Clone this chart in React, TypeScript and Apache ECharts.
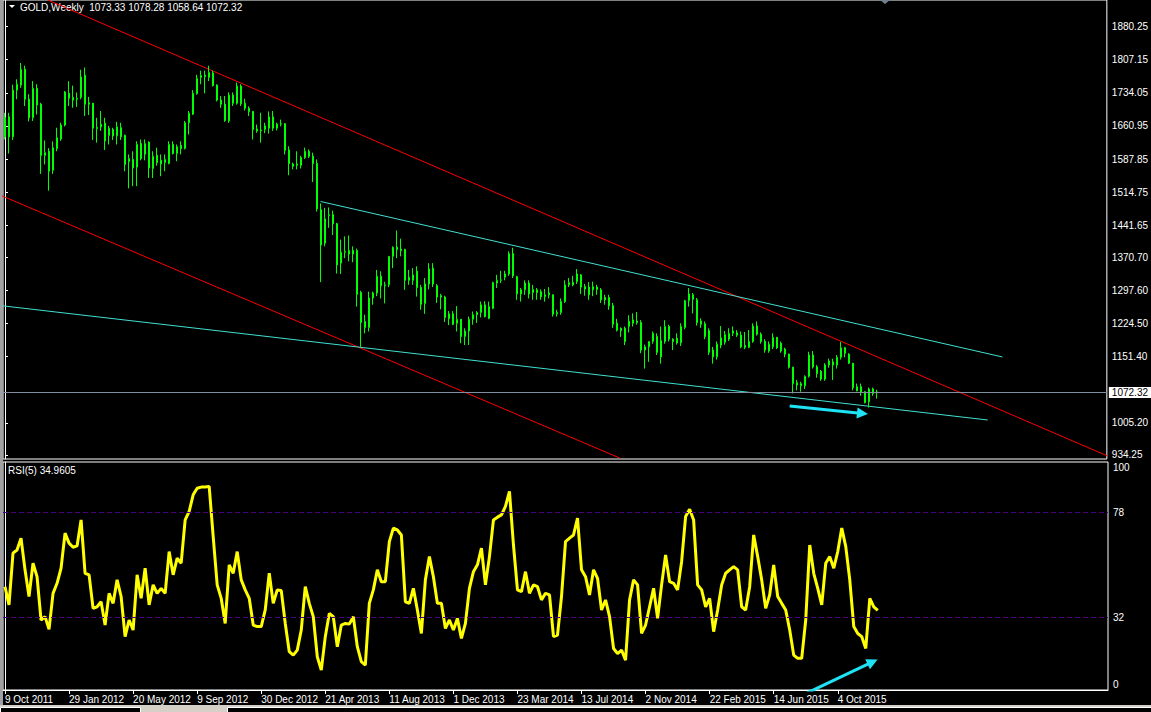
import React, { useEffect, useRef } from 'react';
import * as echarts from 'echarts';

const FONT = "'Liberation Sans', Arial, sans-serif";
const FS = 10;

const tickLabels = ['9 Oct 2011', '29 Jan 2012', '20 May 2012', '9 Sep 2012', '30 Dec 2012', '21 Apr 2013', '11 Aug 2013', '1 Dec 2013', '23 Mar 2014', '13 Jul 2014', '2 Nov 2014', '22 Feb 2015', '14 Jun 2015', '4 Oct 2015'];
const TICK_STEP = 16;
const SLOTS = 276;

const openP = [1637,1681,1637,1740,1751,1786,1720,1679,1744,1709,1596,1605,1563,1611,1632,1663,1733,1724,1720,1724,1773,1712,1711,1655,1659,1667,1640,1653,1639,1657,1640,1582,1587,1570,1622,1598,1625,1567,1596,1585,1580,1578,1620,1600,1618,1611,1668,1687,1732,1768,1773,1768,1778,1751,1718,1709,1672,1729,1711,1749,1711,1700,1693,1654,1650,1653,1656,1681,1656,1665,1666,1608,1577,1574,1574,1591,1605,1594,1578,1476,1402,1463,1465,1445,1358,1382,1378,1386,1386,1293,1229,1216,1281,1292,1329,1308,1310,1373,1393,1389,1388,1320,1320,1340,1304,1269,1312,1347,1308,1286,1283,1235,1246,1225,1234,1196,1208,1234,1244,1249,1266,1236,1258,1314,1320,1327,1334,1379,1328,1290,1299,1314,1293,1299,1295,1284,1288,1288,1246,1249,1273,1310,1315,1317,1332,1306,1305,1299,1305,1299,1282,1282,1264,1225,1214,1214,1218,1225,1230,1227,1166,1173,1185,1196,1151,1185,1218,1190,1192,1182,1216,1275,1288,1277,1230,1224,1209,1166,1151,1177,1183,1190,1203,1204,1199,1176,1172,1185,1219,1201,1185,1164,1173,1194,1181,1168,1157,1128,1094,1087,1087,1108,1155,1129,1119,1102,1133,1140,1133,1150,1171,1157,1137,1085,1085,1074,1052,1080,1073.33];
const highP = [1690,1690,1752,1764,1800,1794,1731,1760,1753,1712,1629,1612,1627,1657,1668,1738,1760,1750,1735,1785,1790,1725,1712,1679,1694,1679,1661,1657,1670,1668,1642,1598,1605,1627,1631,1631,1627,1605,1613,1598,1598,1627,1627,1620,1627,1672,1694,1740,1774,1783,1783,1794,1783,1753,1727,1727,1735,1735,1757,1753,1721,1704,1694,1664,1690,1668,1693,1694,1668,1675,1667,1616,1580,1605,1595,1613,1609,1602,1587,1490,1480,1481,1474,1447,1410,1417,1419,1395,1390,1297,1244,1295,1295,1343,1340,1317,1373,1395,1430,1412,1390,1343,1347,1351,1310,1325,1358,1358,1312,1290,1286,1252,1252,1263,1234,1214,1240,1251,1252,1273,1274,1273,1317,1332,1341,1341,1384,1392,1330,1303,1320,1320,1310,1303,1300,1301,1305,1289,1255,1280,1320,1325,1330,1345,1334,1312,1316,1317,1310,1303,1288,1288,1270,1235,1216,1218,1243,1247,1250,1232,1178,1185,1207,1203,1218,1232,1222,1192,1203,1225,1277,1303,1292,1281,1236,1229,1214,1173,1185,1219,1208,1214,1218,1210,1207,1206,1210,1225,1229,1205,1190,1185,1203,1195,1185,1171,1158,1129,1100,1096,1110,1162,1164,1133,1122,1137,1147,1147,1155,1184,1173,1159,1137,1092,1092,1075,1083,1083,1078.28];
const lowP = [1631,1600,1630,1720,1745,1705,1671,1672,1686,1555,1576,1518,1555,1605,1628,1660,1705,1701,1703,1720,1683,1685,1630,1624,1650,1608,1620,1630,1620,1630,1561,1523,1528,1528,1585,1585,1546,1546,1573,1550,1561,1576,1598,1583,1598,1609,1642,1685,1730,1753,1733,1760,1748,1715,1701,1670,1668,1705,1708,1705,1695,1683,1631,1646,1624,1645,1644,1650,1651,1660,1598,1552,1565,1565,1567,1588,1590,1537,1472,1316,1395,1436,1420,1335,1334,1369,1362,1360,1262,1173,1203,1207,1266,1285,1280,1269,1305,1347,1369,1373,1299,1310,1310,1284,1255,1246,1300,1305,1270,1256,1228,1221,1221,1207,1181,1177,1177,1222,1226,1238,1238,1234,1256,1303,1314,1320,1330,1325,1277,1273,1288,1280,1277,1277,1277,1273,1280,1240,1240,1244,1270,1305,1307,1312,1290,1286,1277,1285,1288,1270,1266,1255,1215,1207,1195,1177,1205,1218,1222,1159,1125,1140,1180,1155,1136,1180,1185,1166,1178,1175,1212,1262,1247,1220,1215,1190,1155,1136,1145,1170,1178,1186,1197,1195,1170,1168,1170,1182,1198,1180,1160,1160,1168,1168,1160,1150,1125,1070,1077,1074,1080,1105,1125,1105,1098,1098,1127,1100,1125,1145,1150,1135,1077,1075,1065,1048,1039,1065,1058.64];
const closeP = [1679,1637,1740,1753,1786,1720,1679,1744,1707,1596,1602,1561,1613,1635,1663,1736,1722,1718,1722,1769,1709,1709,1656,1658,1665,1628,1656,1639,1659,1637,1576,1589,1568,1620,1589,1622,1568,1594,1580,1577,1587,1620,1600,1615,1611,1668,1689,1733,1766,1772,1770,1779,1750,1718,1709,1673,1729,1711,1749,1710,1700,1693,1653,1650,1652,1661,1681,1656,1665,1666,1607,1578,1572,1577,1591,1605,1594,1578,1478,1398,1456,1465,1445,1354,1382,1384,1386,1378,1289,1227,1216,1281,1292,1329,1308,1310,1373,1393,1388,1386,1320,1327,1332,1304,1267,1312,1345,1312,1283,1283,1238,1246,1223,1234,1196,1208,1234,1244,1249,1266,1240,1262,1315,1320,1321,1334,1379,1330,1290,1299,1314,1290,1300,1293,1284,1288,1292,1245,1249,1273,1310,1315,1310,1334,1305,1301,1288,1306,1300,1277,1277,1264,1223,1210,1209,1185,1230,1233,1227,1166,1173,1185,1203,1161,1187,1218,1190,1185,1182,1218,1275,1290,1278,1227,1223,1196,1161,1151,1179,1193,1200,1203,1208,1199,1173,1172,1185,1219,1201,1185,1166,1179,1194,1171,1164,1157,1128,1092,1089,1092,1108,1155,1129,1114,1102,1133,1142,1133,1150,1171,1159,1137,1083,1076,1072,1050,1080,1070,1072.32];
const rsiValues = [45.3,37.3,60,61.4,66.6,52.7,41,55.6,49.7,30.7,32.2,26.6,42.4,46.8,53.4,68.8,64.4,62.6,63.2,74.6,51.2,50.5,35.8,36.5,38.7,28.5,42.4,38,48.3,41,23.4,30.7,26.3,50.5,40.2,53.4,37.3,46.1,42.4,44.6,42.4,60.7,50.5,57.8,55.6,74.6,78.3,85.6,88.5,89,89,89.3,67.3,46.1,40.2,29.2,54.9,51.2,60.7,48.3,43.9,40.2,28.5,27.8,27.8,35.1,51.2,38,43.9,43.6,29.2,16.8,15.3,17.5,26.3,45.3,38,32.2,14.6,8.7,23.4,33.6,32.2,19,28.5,29.2,28.9,32.2,19,12.4,10.9,38,43.9,52.7,47.5,47.5,65.1,71,70.2,68,38.7,38,44.6,35.1,24.8,48.3,58.5,49.7,38,38,27,30.7,26.3,31.4,22.6,29.2,44.6,51.9,54.9,62.2,46.1,58.5,74.6,75.8,76.8,80.5,87.1,63.6,43.9,43.1,51.9,42.4,46.1,45.3,39.5,42.4,41.7,23.4,24.1,41,65.1,66.6,68,75.4,52.7,49.7,41.7,52.7,49,35.1,39.5,32.2,18.2,16,17.5,13.1,39.5,48.3,46.1,24.8,28.5,36.5,44.6,31.4,46.1,59.2,47.5,46.8,43.9,56.3,76.1,79.3,74.6,46.1,43.9,36.5,40.2,25.6,35.1,46.1,51.2,52.7,54.1,52.7,36.5,35.1,45.3,68,58.5,48.3,35.8,41.7,54.9,41,38,35.1,26.3,15.3,13.9,13.9,30.7,63.6,51.2,44.6,37.3,55.6,58.5,53.4,60.7,71,62.9,48.3,27.8,24.8,23.4,18.2,40.2,36.5,34.9605];

const priceTicks = [934.25, 1005.2, 1151.4, 1224.5, 1297.6, 1370.7, 1441.65, 1514.75, 1587.85, 1660.95, 1734.05, 1807.15, 1880.25];
const priceMin = 925.4;
const priceMax = 1939.1;
const rsiLevels = [32, 78];
const lastPrice = 1072.32;
const headerText = 'GOLD,Weekly  1073.33 1078.28 1058.64 1072.32';
const rsiHeader = 'RSI(5) 34.9605';

const redLineUpper = [[10.7, 1939.1], [275.7, 932.0]];
const redLineLower = [[-1.3, 1508.5], [153.7, 927.6]];
const cyanLineUpper = [[78.9, 1494.1], [249.4, 1150.7]];
const cyanLineLower = [[-1.3, 1264.4], [245.7, 1011.5]];
const priceArrow = [[196.2, 1042.5], [214.4, 1025.9]];
const rsiArrow = [[199.0, -2.4], [216.7, 12.3]];

export default function App() {
  const ref = useRef<HTMLDivElement>(null);
  useEffect(() => {
    if (!ref.current) return;
    const chart = echarts.init(ref.current, null, { renderer: 'svg' });
    const cats = Array.from({ length: SLOTS }, (_, i) => 'w' + i);
    const labelFor = (i: number) => (i % TICK_STEP === 0 && i / TICK_STEP < tickLabels.length ? tickLabels[i / TICK_STEP] : '');
    const candles = openP.map((o, i) => [o, closeP[i], lowP[i], highP[i]]);
    const L = 3, W = 1105;
    const txt = { color: '#ffffff', fontFamily: FONT, fontSize: FS };
    const trend = (coords: number[][], color: string, xi: number, yi: number, width = 1, arrow = false) => ({
      type: 'lines', coordinateSystem: 'cartesian2d', xAxisIndex: xi, yAxisIndex: yi, clip: true, silent: true,
      polyline: false,
      symbol: arrow ? ['none', 'triangle'] : ['none', 'none'], symbolSize: arrow ? 11 : 0,
      lineStyle: { color, width, opacity: 1, curveness: 0 },
      itemStyle: { color },
      data: [{ coords }],
    });
    chart.setOption({
      animation: false,
      backgroundColor: '#000000',
      textStyle: { fontFamily: FONT },
      grid: [
        { left: L, top: 0, width: W, height: 459, show: true, borderColor: '#ffffff', borderWidth: 1, backgroundColor: '#000' },
        { left: L, top: 462, width: W, height: 228, show: true, borderColor: '#ffffff', borderWidth: 1, backgroundColor: '#000' },
      ],
      xAxis: [
        { type: 'category', gridIndex: 0, data: cats, boundaryGap: true, axisLine: { show: false }, axisTick: { show: false }, axisLabel: { show: false }, splitLine: { show: false } },
        { type: 'value', gridIndex: 0, min: -0.5, max: SLOTS - 0.5, show: false, splitLine: { show: false } },
        {
          type: 'category', gridIndex: 1, data: cats, boundaryGap: true,
          axisLine: { show: true, lineStyle: { color: '#ffffff', width: 1 } },
          axisTick: { show: true, alignWithLabel: true, length: 4, lineStyle: { color: '#ffffff' }, interval: (i: number) => labelFor(i) !== '' },
          axisLabel: { ...txt, align: 'left', margin: 4, interval: (i: number) => labelFor(i) !== '', formatter: (_v: string, i: number) => labelFor(i) },
          splitLine: { show: false },
        },
        { type: 'value', gridIndex: 1, min: -0.5, max: SLOTS - 0.5, show: false, splitLine: { show: false } },
      ],
      yAxis: [
        {
          type: 'value', gridIndex: 0, position: 'right', min: priceMin, max: priceMax,
          axisLine: { show: true, lineStyle: { color: '#ffffff' } },
          axisTick: { show: true, length: 3, lineStyle: { color: '#ffffff' }, customValues: priceTicks },
          axisLabel: { ...txt, margin: 5, customValues: priceTicks, formatter: (v: number) => v.toFixed(2) },
          splitLine: { show: false },
        },
        {
          type: 'value', gridIndex: 1, position: 'right', min: 0, max: 100,
          axisLine: { show: true, lineStyle: { color: '#ffffff' } },
          axisTick: { show: true, length: 3, lineStyle: { color: '#ffffff' }, customValues: rsiLevels },
          axisLabel: { ...txt, margin: 5, customValues: [2.6, 32, 78, 97.4], formatter: (v: number) => (v > 90 ? '100' : v < 10 ? '0' : String(Math.round(v))) },
          splitLine: { show: false },
        },
      ],
      series: [
        {
          type: 'candlestick', xAxisIndex: 0, yAxisIndex: 0, data: candles, barWidth: 2, silent: true,
          itemStyle: { color: '#000000', color0: '#ffffff', borderColor: '#00ff00', borderColor0: '#00ff00', borderWidth: 1 },
          markLine: {
            silent: true, symbol: ['none', 'none'], animation: false,
            lineStyle: { color: '#8090a0', type: 'solid', width: 1 },
            label: { show: true, position: 'end', distance: 2, formatter: lastPrice.toFixed(2), color: '#000000', backgroundColor: '#ffffff', padding: [1, 3, 0, 3], fontFamily: FONT, fontSize: FS },
            data: [{ yAxis: lastPrice }],
          },
        },
        trend(redLineUpper, '#ff0000', 1, 0),
        trend(redLineLower, '#ff0000', 1, 0),
        trend(cyanLineUpper, '#40e0d0', 1, 0),
        trend(cyanLineLower, '#40e0d0', 1, 0),
        trend(priceArrow, '#1ee3f5', 1, 0, 3, true),
        {
          type: 'line', xAxisIndex: 2, yAxisIndex: 1, data: rsiValues, showSymbol: false, symbol: 'none', silent: true,
          lineStyle: { color: '#ffff00', width: 3 },
          markLine: {
            silent: true, symbol: ['none', 'none'], label: { show: false },
            lineStyle: { color: '#4b0082', type: [5, 3], width: 1 },
            data: rsiLevels.map((v) => ({ yAxis: v })),
          },
        },
        trend(rsiArrow, '#1ee3f5', 3, 1, 3, true),
      ],
      graphic: [
        { type: 'rect', shape: { x: 0, y: 0, width: 3, height: 706 }, style: { fill: '#a0a0a0' }, silent: true },
        { type: 'polygon', shape: { points: [[9, 5], [15, 5], [12, 8]] }, style: { fill: '#ffffff' }, silent: true },
        { type: 'text', x: 20, y: 7, style: { text: headerText, fill: '#ffffff', font: `${FS}px ${FONT}`, verticalAlign: 'middle' }, silent: true },
        { type: 'text', x: 8, y: 470, style: { text: rsiHeader, fill: '#ffffff', font: `${FS}px ${FONT}`, verticalAlign: 'middle' }, silent: true },
        { type: 'polygon', shape: { points: [[880, 0], [890, 0], [885, 4]] }, style: { fill: '#708090' }, silent: true },
        { type: 'rect', shape: { x: 0, y: 705, width: 1151, height: 7 }, style: { fill: '#d4d0c8' }, silent: true },
        { type: 'rect', shape: { x: 0.5, y: 707.5, width: 140, height: 6 }, style: { fill: '#000000', stroke: '#ffffff', lineWidth: 1 }, silent: true },
        { type: 'rect', shape: { x: 227.5, y: 707.5, width: 924, height: 6 }, style: { fill: '#000000', stroke: '#ffffff', lineWidth: 1 }, silent: true },
      ],
    });
    return () => chart.dispose();
  }, []);
  return <div ref={ref} style={{ position: 'absolute', left: 0, top: 0, width: 1151, height: 712, background: '#000' }} />;
}
